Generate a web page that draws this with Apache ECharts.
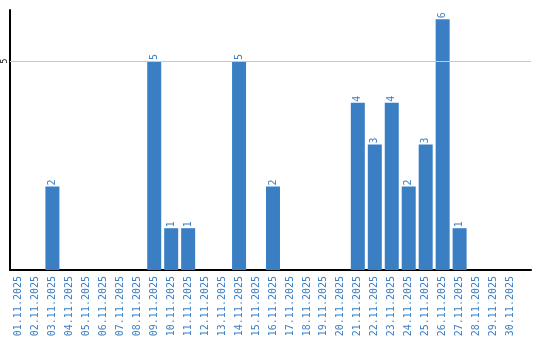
<!DOCTYPE html>
<html><head><meta charset="utf-8">
<script src="https://cdn.jsdelivr.net/npm/echarts@6/dist/echarts.min.js"></script>
<style>html,body{margin:0;padding:0;background:#fff}#c{width:540px;height:340px}</style>
</head><body><div id="c"></div>
<script>
const categories = ["01.11.2025","02.11.2025","03.11.2025","04.11.2025","05.11.2025","06.11.2025","07.11.2025","08.11.2025","09.11.2025","10.11.2025","11.11.2025","12.11.2025","13.11.2025","14.11.2025","15.11.2025","16.11.2025","17.11.2025","18.11.2025","19.11.2025","20.11.2025","21.11.2025","22.11.2025","23.11.2025","24.11.2025","25.11.2025","26.11.2025","27.11.2025","28.11.2025","29.11.2025","30.11.2025"];
const values = [0,0,2,0,0,0,0,0,5,1,1,0,0,5,0,2,0,0,0,0,4,3,4,2,3,6,1,0,0,0];
const yTicks = [5];
const yMax = 6.22;
const chart = echarts.init(document.getElementById('c'));
chart.setOption({
  animation:false,
  grid:[{left:10,right:21,top:10,bottom:70},{left:10,right:9,top:10,bottom:70}],
  xAxis:[
    {type:'category',gridIndex:0,data:categories,
      axisLine:{show:false},axisTick:{show:false},
      axisLabel:{rotate:90,interval:0,color:'#3a7fc4',fontFamily:'DejaVu Sans Mono',fontSize:10,margin:6}},
    {type:'value',gridIndex:1,min:0,max:1,
      axisLine:{show:true,onZero:false,lineStyle:{color:'#000',width:2}},axisTick:{show:false},
      axisLabel:{show:false},splitLine:{show:false}}
  ],
  yAxis:[
    {type:'value',gridIndex:0,min:0,max:yMax,interval:5,
      axisLine:{show:false},axisTick:{show:false},splitLine:{show:false},
      axisLabel:{rotate:90,color:'#000',fontFamily:'DejaVu Sans Mono',fontSize:8,margin:1,
        formatter:v=>yTicks.includes(v)?String(v):''}},
    {type:'value',gridIndex:1,min:0,max:yMax,interval:5,
      axisLine:{show:true,lineStyle:{color:'#000',width:2}},axisTick:{show:false},
      axisLabel:{show:false},
      splitLine:{show:false}}
  ],
  series:[
    {type:'bar',xAxisIndex:0,yAxisIndex:0,data:values.map(v=>v===0?null:v),barWidth:14,
      itemStyle:{color:'#3a7fc4'},
      label:{show:true,position:'top',rotate:90,align:'left',verticalAlign:'middle',distance:1,
        color:'#3a7fc4',fontFamily:'DejaVu Sans Mono',fontSize:10}},
    {type:'line',xAxisIndex:1,yAxisIndex:1,data:[],silent:true,
      markLine:{silent:true,symbol:'none',label:{show:false},
        lineStyle:{color:'#c8c8c8',type:'solid',width:1},
        data:yTicks.map(t=>({yAxis:t}))},z:0}
  ]
});
</script></body></html>
